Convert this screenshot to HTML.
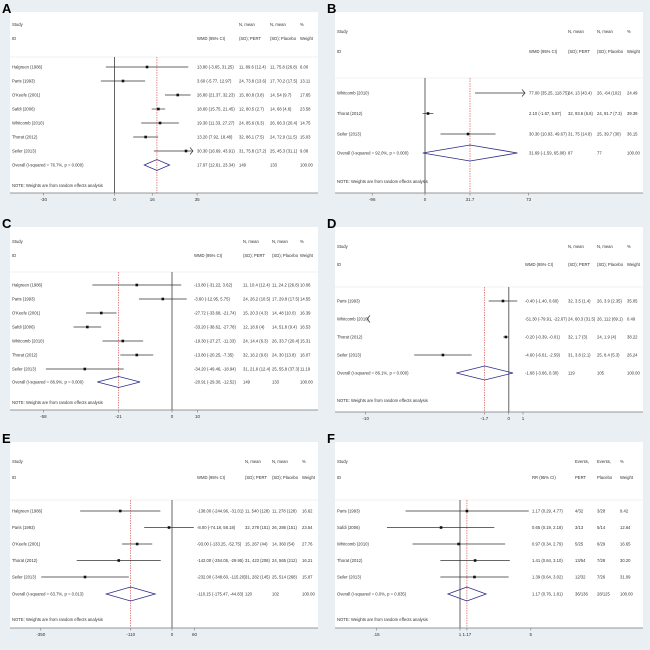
<!DOCTYPE html>
<html><head><meta charset="utf-8"><style>
html,body{margin:0;padding:0;background:#e9eff2;}
svg{display:block;font-family:"Liberation Sans",sans-serif;}
</style></head><body>
<svg id="fig" width="650" height="650" viewBox="0 0 650 650" xmlns="http://www.w3.org/2000/svg">
<rect x="0" y="0" width="650" height="650" fill="#e9eff2"/>
</svg>
<script>
// ---------- Panel A data ----------
const studiesA = ["Halgreen (1986)","Paris (1993)","O'Keefe (2001)","Safdi (2006)","Whitcomb (2010)","Thorat (2012)","Seiler (2013)"];
const estA = [13.80,3.60,26.80,18.60,19.30,13.20,30.30];
const loA = [-3.65,-5.77,21.37,15.75,11.33,7.92,16.69];
const hiA = [31.25,12.97,32.23,21.45,27.27,18.48,43.91];
const ciTextA = ["13.80 (-3.65, 31.25)","3.60 (-5.77, 12.97)","26.80 (21.37, 32.23)","18.60 (15.75, 21.45)","19.30 (11.33, 27.27)","13.20 (7.92, 18.48)","30.30 (16.69, 43.91)"];
const n1A = ["11, 89.6 (12.4)","24, 73.8 (13.6)","15, 80.8 (3.8)","12, 80.5 (2.7)","24, 85.6 (6.3)","32, 86.1 (7.5)","31, 75.8 (17.2)"];
const n2A = ["11, 75.8 (26.8)","17, 70.2 (17.5)","14, 54 (9.7)","14, 68 (4.6)","26, 66.3 (20.4)","24, 72.9 (11.5)","25, 45.3 (31.1)"];
const wA = ["6.00","13.11","17.65","23.58","14.75","15.03","9.08"];
const overallA = [17.97,12.61,23.34];
const overallTextA = ["Overall  (I-squared = 76.7%, p = 0.000)","17.97 (12.61, 23.34)","149","133","100.00"];
const ticksA = [-30,0,16,35];
const tickLabelsA = ["-30","0","16","35"];

// ---------- Panel B data ----------
const studiesB = ["Whitcomb (2010)","Thorat (2012)","Seiler (2013)"];
const estB = [77.00,2.10,30.30];
const loB = [35.25,-1.67,10.93];
const hiB = [118.75,5.87,49.67];
const ciTextB = ["77.00 (35.25, 118.75)","2.10 (-1.67, 5.87)","30.30 (10.93, 49.67)"];
const n1B = ["24, 13 (43.4)","32, 93.6 (6.8)","31, 75 (14.8)"];
const n2B = ["26, -64 (102)","24, 91.7 (7.3)","25, 39.7 (30)"];
const wB = ["24.49","39.39","36.15"];
const overallB = [31.69,-1.59,65.08];
const overallTextB = ["Overall  (I-squared = 92.0%, p = 0.000)","31.69 (-1.59, 65.08)","87","77","100.00"];
const ticksB = [-96,0,31.7,73];
const tickLabelsB = ["-96","0","31.7","73"];

// ---------- Panel C data ----------
const studiesC = ["Halgreen (1986)","Paris (1993)","O'Keefe (2001)","Safdi (2006)","Whitcomb (2010)","Thorat (2012)","Seiler (2013)"];
const estC = [-13.80,-3.60,-27.72,-33.20,-19.30,-13.80,-34.20];
const loC = [-31.22,-12.95,-33.68,-38.62,-27.27,-20.25,-49.46];
const hiC = [3.62,5.75,-21.74,-27.78,-11.33,-7.35,-18.94];
const ciTextC = ["-13.80 (-31.22, 3.62)","-3.60 (-12.95, 5.75)","-27.72 (-33.68, -21.74)","-33.20 (-38.62, -27.78)","-19.30 (-27.27, -11.33)","-13.80 (-20.25, -7.35)","-34.20 (-49.46, -18.94)"];
const n1C = ["11, 10.4 (12.4)","24, 26.2 (10.5)","15, 20.3 (4.3)","12, 18.6 (4)","24, 14.4 (6.3)","32, 16.2 (9.6)","31, 21.6 (12.4)"];
const n2C = ["11, 24.2 (26.8)","17, 29.8 (17.5)","14, 48 (10.0)","14, 51.8 (9.4)","26, 33.7 (20.4)","24, 30 (13.8)","25, 55.8 (37.3)"];
const wC = ["10.06","14.55","16.39","16.53","15.31","16.07","11.19"];
const overallC = [-20.91,-29.30,-12.52];
const overallTextC = ["Overall  (I-squared = 86.9%, p = 0.000)","-20.91 (-29.30, -12.52)","149","133","100.00"];
const ticksC = [-58,-21,0,10];
const tickLabelsC = ["-58","-21","0","10"];

// ---------- Panel D data ----------
const studiesD = ["Paris (1993)","Whitcomb (2010)","Thorat (2012)","Seiler (2013)"];
const estD = [-0.40,-51.30,-0.20,-4.60];
const loD = [-1.40,-79.91,-0.39,-6.61];
const hiD = [0.60,-22.67,-0.01,-2.59];
const ciTextD = ["-0.40 (-1.40, 0.60)","-51.30 (-79.91, -22.67)","-0.20 (-0.39, -0.01)","-4.60 (-6.61, -2.59)"];
const n1D = ["32, 3.5 (1.4)","24, 60.3 (31.5)","32, 1.7 (3)","31, 3.8 (2.1)"];
const n2D = ["26, 3.9 (2.35)","26, 112 (69.1)","24, 1.9 (4)","25, 8.4 (5.3)"];
const wD = ["35.05","0.49","38.22","26.24"];
const overallD = [-1.68,-3.66,0.30];
const overallTextD = ["Overall  (I-squared = 86.1%, p = 0.000)","-1.68 (-3.66, 0.30)","119","105","100.00"];
const ticksD = [-10,-1.7,0,1];
const tickLabelsD = ["-10","-1.7","0","1"];

// ---------- Panel E data ----------
const studiesE = ["Halgreen (1986)","Paris (1993)","O'Keefe (2001)","Thorat (2012)","Seiler (2013)"];
const estE = [-138.00,-8.00,-93.00,-142.00,-232.00];
const loE = [-244.96,-74.18,-133.25,-254.05,-348.60];
const hiE = [-31.01,58.18,-52.75,-29.95,-115.20];
const ciTextE = ["-138.00 (-244.96, -31.01)","-8.00 (-74.18, 58.18)","-93.00 (-133.25, -52.75)","-142.00 (-254.05, -29.95)","-232.00 (-348.60, -115.20)"];
const n1E = ["11, 540 (128)","32, 278 (151)","15, 267 (44)","31, 423 (208)","31, 282 (145)"];
const n2E = ["11, 278 (128)","26, 286 (151)","14, 360 (54)","24, 565 (212)","25, 514 (268)"];
const wE = ["16.62","23.54","27.76","16.21","15.87"];
const overallE = [-110.15,-175.47,-44.83];
const overallTextE = ["Overall  (I-squared = 63.7%, p = 0.013)","-110.15 (-175.47, -44.83)","120","102","100.00"];
const ticksE = [-350,-110,0,60];
const tickLabelsE = ["-350","-110","0","60"];

// ---------- Panel F data ----------
const studiesF = ["Paris (1993)","Safdi (2006)","Whitcomb (2010)","Thorat (2012)","Seiler (2013)"];
const estF = [1.17,0.65,0.97,1.41,1.39];
const loF = [0.29,0.19,0.34,0.64,0.64];
const hiF = [4.77,2.18,2.79,3.10,3.02];
const ciTextF = ["1.17 (0.29, 4.77)","0.65 (0.19, 2.18)","0.97 (0.34, 2.79)","1.41 (0.64, 3.10)","1.39 (0.64, 3.02)"];
const n1F = ["4/32","3/13","5/25","13/54","12/32"];
const n2F = ["3/28","5/14","6/29","7/28","7/26"];
const wF = ["9.42","12.64","16.65","30.20","31.09"];
const overallF = [1.17,0.76,1.81];
const overallTextF = ["Overall  (I-squared = 0.0%, p = 0.835)","1.17 (0.76, 1.81)","36/136","28/125","100.00"];
const ticksF = [0.15,1,1.17,5];
const tickLabelsF = [".15","1","1.17","5"];

const NS = "http://www.w3.org/2000/svg";
const svg = document.getElementById("fig");
function mk(tag, attrs, parent){
  const e = document.createElementNS(NS, tag);
  for (const k in attrs) e.setAttribute(k, attrs[k]);
  (parent||svg).appendChild(e);
  return e;
}
function txt(parent, x, y, s, size){
  const t = mk("text", {x:x, y:y, "font-size":size||4.2, fill:"#333"}, parent);
  t.textContent = s;
  return t;
}

function drawPanel(p){
  const g = mk("g", {transform:"translate("+p.ox+","+p.oy+")"});
  
  
  const x = p.scale;
  const tx_ = p.tickScale || p.scale;
  const bg = mk("rect", {x:10, y:12, width:308, height:p.axisY-12, fill:"#fff"}, g);
  
  
  const lab = mk("text", {x:2, y:13, "font-size":13, "font-weight":"bold", fill:"#000"}, g);
  lab.textContent = p.letter;
  
  
  const hdr = mk("g", {}, g);
  
  
  txt(hdr, 12, p.studyY, "Study");
  txt(hdr, 12, p.idY, "ID");
  txt(hdr, p.cols[0], p.idY, p.effLabel);
  txt(hdr, p.cols[1], p.studyY, p.h1[0]); txt(hdr, p.cols[1], p.idY, p.h1[1]);
  txt(hdr, p.cols[2], p.studyY, p.h2[0]); txt(hdr, p.cols[2], p.idY, p.h2[1]);
  txt(hdr, p.cols[3], p.studyY, "%"); txt(hdr, p.cols[3], p.idY, "Weight");
  const sep = mk("line", {x1:10, x2:318, y1:p.sepY, y2:p.sepY, stroke:"#e4e4e4", "stroke-width":0.6}, g);
  
  
  const nl = mk("line", {x1:x(p.nullV), x2:x(p.nullV), y1:p.sepY, y2:p.axisY, stroke:p.nullColor, "stroke-width":p.nullW}, g);
  
  
  const ol = mk("line", {x1:x(p.overall[0]), x2:x(p.overall[0]), y1:p.sepY, y2:p.axisY, stroke:"#d04040", "stroke-width":0.6, "stroke-dasharray":"1.5,1"}, g);
  
  
  for (let i=0;i<p.studies.length;i++){
    const y = p.row0 + i*p.step;
    const r = mk("g", {}, g);
    
    
    txt(r, 12, y+1.5, p.studies[i]);
    txt(r, p.cols[0], y+1.5, p.ciText[i]);
    txt(r, p.cols[1], y+1.5, p.n1[i]);
    txt(r, p.cols[2], y+1.5, p.n2[i]);
    txt(r, p.cols[3], y+1.5, p.w[i]);
    let x1 = x(p.lo[i]), x2 = x(p.hi[i]);
    const leftClip = x1 < p.minX, rightClip = x2 > p.maxX;
    x1 = Math.max(x1, p.minX); x2 = Math.min(x2, p.maxX);
    if (x2 > x1){
      const ci = mk("line", {x1:x1, x2:x2, y1:y, y2:y, stroke:"#333", "stroke-width":0.7}, r);
      
      
    }
    if (rightClip){
      const a = mk("polyline", {points:(x2-3)+","+(y-3.5)+" "+x2+","+y+" "+(x2-3)+","+(y+3.5), fill:"none", stroke:"#333", "stroke-width":0.7}, r);
      
      
    }
    if (leftClip){
      const a = mk("polyline", {points:(x1+3)+","+(y-3.5)+" "+x1+","+y+" "+(x1+3)+","+(y+3.5), fill:"none", stroke:"#333", "stroke-width":0.7}, r);
      
      
    }
    const px = x(p.est[i]);
    if (px >= p.minX && px <= p.maxX){
      const pt = mk("rect", {x:px-1.3, y:y-1.3, width:2.6, height:2.6, fill:"#111"}, r);
      
      
    }
  }
  const oy = p.overallY;
  const og = mk("g", {}, g);
  
  
  txt(og, 12, oy+1.5, p.overallText[0]);
  txt(og, p.cols[0], oy+1.5, p.overallText[1]);
  txt(og, p.cols[1], oy+1.5, p.overallText[2]);
  txt(og, p.cols[2], oy+1.5, p.overallText[3]);
  txt(og, p.cols[3], oy+1.5, p.overallText[4]);
  const dh = p.dh;
  const d = mk("polygon", {points:x(p.overall[1])+","+oy+" "+x(p.overall[0])+","+(oy-dh)+" "+x(p.overall[2])+","+oy+" "+x(p.overall[0])+","+(oy+dh), fill:"none", stroke:"#2a2a8a", "stroke-width":0.8}, og);
  
  
  const note = txt(g, 12, p.noteY, "NOTE: Weights are from random effects analysis");
  
  
  const ax = mk("g", {}, g);
  
  
  mk("line", {x1:10, x2:318, y1:p.axisY, y2:p.axisY, stroke:"#777", "stroke-width":0.8}, ax);
  for (let i=0;i<p.ticks.length;i++){
    const tx = tx_(p.ticks[i]);
    mk("line", {x1:tx, x2:tx, y1:p.axisY, y2:p.axisY+2.5, stroke:"#777", "stroke-width":0.6}, ax);
    const t = mk("text", {x:tx, y:p.axisY+8, "font-size":4.5, fill:"#333", "text-anchor":"middle"}, ax);
    t.textContent = p.tickLabels[i];
  }
}

const scaleB = v=>100+1.42*v;
const scaleC = v=>172+2.55*v;
const panels = [
 {letter:"A", ox:0, oy:0, scale:v=>114.5+2.36*v, studies:studiesA, est:estA, lo:loA, hi:hiA, ciText:ciTextA, n1:n1A, n2:n2A, w:wA, overall:overallA, overallText:overallTextA, ticks:ticksA, tickLabels:tickLabelsA,
  studyY:26, idY:40, sepY:57, row0:67, step:14, overallY:165, noteY:187, axisY:193, cols:[197,239,270,300], minX:10, maxX:193, nullV:0, nullColor:"#222", nullW:0.7, dh:5.5, effLabel:"WMD (95% CI)", h1:["N, mean","(SD); PERT"], h2:["N, mean","(SD); Placebo"]},
 {letter:"B", ox:325, oy:0, scale:scaleB, tickScale:v=> v<0 ? 100+0.55*v : scaleB(v), studies:studiesB, est:estB, lo:loB, hi:hiB, ciText:ciTextB, n1:n1B, n2:n2B, w:wB, overall:overallB, overallText:overallTextB, ticks:ticksB, tickLabels:tickLabelsB,
  studyY:33, idY:53, sepY:78, row0:93, step:20.5, overallY:153, noteY:183, axisY:193, cols:[204,243,272,302], minX:10, maxX:200, nullV:0, nullColor:"#222", nullW:0.7, dh:8, effLabel:"WMD (95% CI)", h1:["N, mean","(SD); PERT"], h2:["N, mean","(SD); Placebo"]},
 {letter:"C", ox:0, oy:215, scale:scaleC, tickScale:v=> v<-21 ? scaleC(-21)+2.03*(v+21) : scaleC(v), studies:studiesC, est:estC, lo:loC, hi:hiC, ciText:ciTextC, n1:n1C, n2:n2C, w:wC, overall:overallC, overallText:overallTextC, ticks:ticksC, tickLabels:tickLabelsC,
  studyY:28, idY:42, sepY:57, row0:70, step:14, overallY:167, noteY:189, axisY:195, cols:[194,243,272,300], minX:10, maxX:318, nullV:0, nullColor:"#888", nullW:1.3, dh:5.5, effLabel:"WMD (95% CI)", h1:["N, mean","(SD); PERT"], h2:["N, mean","(SD); Placebo"]},
 {letter:"D", ox:325, oy:215, scale:v=>183.7+14.3*v, studies:studiesD, est:estD, lo:loD, hi:hiD, ciText:ciTextD, n1:n1D, n2:n2D, w:wD, overall:overallD, overallText:overallTextD, ticks:ticksD, tickLabels:tickLabelsD,
  studyY:33, idY:51, sepY:72, row0:86, step:18, overallY:158, noteY:187, axisY:197, cols:[200,243,272,302], minX:42, maxX:318, nullV:0, nullColor:"#888", nullW:1.3, dh:7, effLabel:"WMD (95% CI)", h1:["N, mean","(SD); PERT"], h2:["N, mean","(SD); Placebo"]},
 {letter:"E", ox:0, oy:430, scale:v=>172+0.375*v, studies:studiesE, est:estE, lo:loE, hi:hiE, ciText:ciTextE, n1:n1E, n2:n2E, w:wE, overall:overallE, overallText:overallTextE, ticks:ticksE, tickLabels:tickLabelsE,
  studyY:33, idY:49, sepY:70, row0:81, step:16.5, overallY:164, noteY:191, axisY:198, cols:[197,245,272,302], minX:10, maxX:318, nullV:0, nullColor:"#888", nullW:1.3, dh:7, effLabel:"WMD (95% CI)", h1:["N, mean","(SD); PERT"], h2:["N, mean","(SD); Placebo"]},
 {letter:"F", ox:325, oy:430, scale:v=>135+44*Math.log(v), studies:studiesF, est:estF, lo:loF, hi:hiF, ciText:ciTextF, n1:n1F, n2:n2F, w:wF, overall:overallF, overallText:overallTextF, ticks:ticksF, tickLabels:tickLabelsF,
  studyY:33, idY:49, sepY:70, row0:81, step:16.5, overallY:164, noteY:191, axisY:198, cols:[207,250,272,295], minX:10, maxX:318, nullV:1, nullColor:"#222", nullW:0.7, dh:7, effLabel:"RR (95% CI)", h1:["Events,","PERT"], h2:["Events,","Placebo"]}
];
panels.forEach(drawPanel);
</script>
</body></html>
